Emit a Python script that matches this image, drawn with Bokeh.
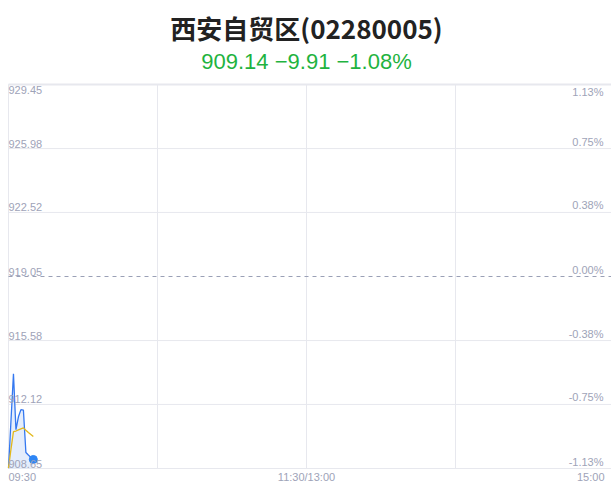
from bokeh.plotting import figure
from bokeh.models import Range1d, ColumnDataSource
from bokeh.core.properties import value
from bokeh.embed import file_html
from bokeh.resources import INLINE

title_text = "西安自贸区(02280005)"
subtitle_text = "909.14 \u22129.91 \u22121.08%"

minutes = [0, 1, 2, 3, 4, 5, 6, 7, 8, 9, 10]
price = [908.67, 911.25, 913.78, 910.75, 911.45, 911.84, 911.81, 909.52, 909.38, 909.25, 909.14]
avg_price = [908.67, 909.70, 910.65, 910.68, 910.74, 910.80, 910.85, 910.72, 910.60, 910.49, 910.38]

pre_close = 919.05
y_ticks = [929.45, 925.98, 922.52, 919.05, 915.58, 912.12, 908.65]
pct_labels = ["1.13%", "0.75%", "0.38%", "0.00%", "-0.38%", "-0.75%", "-1.13%"]
x_grid = [0, 60, 120, 180]
x_tick_pos = [0, 120, 240]
x_tick_labels = ["09:30", "11:30/13:00", "15:00"]

W, H = 611, 492
left_px, right_px, top_px, bottom_px = 8, 604, 84, 468
y_min, y_max = y_ticks[-1], y_ticks[0]
ppm = (right_px - left_px) / 240.0
ppu = (bottom_px - top_px) / (y_max - y_min)
x_lo = -left_px / ppm
x_hi = (W - left_px) / ppm
y_hi = y_max + top_px / ppu
y_lo = y_min - (H - bottom_px) / ppu

label_color = "#9ea3b8"
grid_color = "#e7e8ee"
font = value("Liberation Sans")

p = figure(width=W, height=H, output_backend="svg", toolbar_location=None,
           x_axis_type=None, y_axis_type=None, title=None,
           x_range=Range1d(x_lo, x_hi), y_range=Range1d(y_lo, y_hi),
           min_border=0)
p.outline_line_color = None
p.grid.visible = False
p.background_fill_color = "white"
p.border_fill_color = "white"

# grid
solid_y = [t for t in y_ticks if t != pre_close]
p.segment(x0=[0] * len(solid_y), x1=[x_hi] * len(solid_y), y0=solid_y, y1=solid_y,
          line_color=grid_color, line_width=1)
p.segment(x0=[0], x1=[x_hi], y0=[y_max], y1=[y_max], line_color=grid_color, line_width=2)
p.segment(x0=x_grid, x1=x_grid, y0=[y_min] * len(x_grid), y1=[y_max] * len(x_grid),
          line_color=grid_color, line_width=1)
p.segment(x0=[0], x1=[x_hi], y0=[pre_close], y1=[pre_close], line_color="#9aa0b6",
          line_width=1, line_dash="4 4")

src = ColumnDataSource(dict(x=minutes, price=price, avg=avg_price, base=[y_min] * len(minutes)))
p.varea(x="x", y1="base", y2="price", source=src, fill_color="#dfeafb", fill_alpha=0.85)
p.line(x="x", y="price", source=src, line_color="#3478f0", line_width=1.3)
p.line(x="x", y="avg", source=src, line_color="#e2b81c", line_width=1.3)
p.scatter(x=[minutes[-1]], y=[price[-1]], size=8, fill_color="#2e86f5", line_color="#2e86f5")

# y labels
inner = y_ticks[1:]
common = dict(text_font=font, text_font_size="11px", text_color=label_color)
p.text(x=[0] * len(inner), y=inner, text=[f"{t:.2f}" for t in inner], text_align="left",
       text_baseline="bottom", x_offset=0, y_offset=-1, **common)
p.text(x=[240] * len(inner), y=inner, text=pct_labels[1:], text_align="right",
       text_baseline="bottom", x_offset=-1, y_offset=-1, **common)
p.text(x=[0], y=[y_max], text=[f"{y_max:.2f}"], text_align="left", text_baseline="top",
       x_offset=0, y_offset=1, **common)
p.text(x=[240], y=[y_max], text=[pct_labels[0]], text_align="right", text_baseline="top",
       x_offset=-1, y_offset=1, **common)

# x labels
p.text(x=x_tick_pos, y=[y_min] * 3, text=x_tick_labels, text_align=["left", "center", "right"],
       text_baseline="middle", y_offset=8, **common)

# title & subtitle
p.text(x=[120], y=[y_max], text=[title_text], text_align="center", text_baseline="middle",
       y_offset=-57, text_font=value("Noto Sans CJK SC"), text_font_size="26px",
       text_font_style="bold", text_color="#222222")
p.text(x=[120], y=[y_max], text=[subtitle_text], text_align="center", text_baseline="middle",
       y_offset=-23, text_font=font, text_font_size="22px", text_color="#1fb33f")

open("out.html", "w").write(file_html(p, INLINE))
